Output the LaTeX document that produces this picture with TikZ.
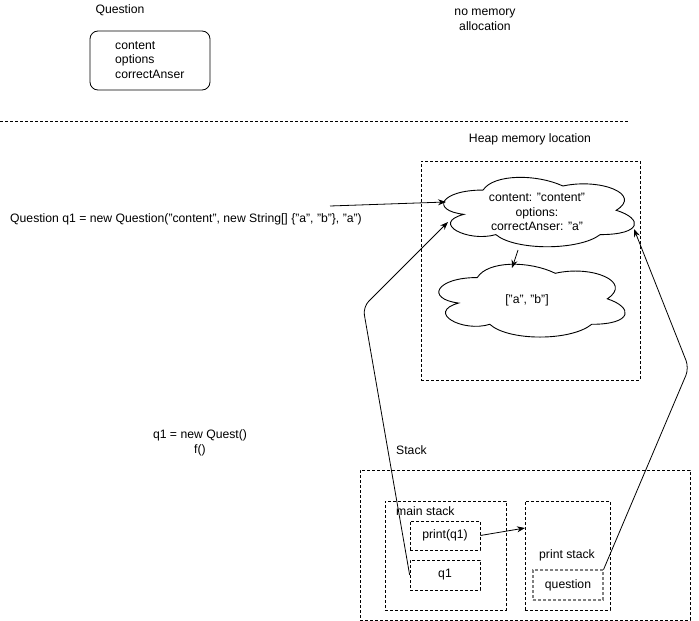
\documentclass[tikz,border=0pt]{standalone}
\usepackage{fontspec}
\setmainfont{Liberation Sans}
\usetikzlibrary{arrows.meta}
\newcommand{\drawcloudshape}[3]{%
  \begin{scope}[shift={(#1.north west)}, x={(#2pt,0pt)}, y={(0pt,-#3pt)}]
    \draw[line width=0.9pt] (0.25,0.25) .. controls (0.05,0.25) and (0,0.5) .. (0.16,0.55)
      .. controls (0,0.66) and (0.18,0.9) .. (0.31,0.8)
      .. controls (0.4,1) and (0.7,1) .. (0.8,0.8)
      .. controls (1,0.8) and (1,0.6) .. (0.875,0.5)
      .. controls (1,0.3) and (0.8,0.1) .. (0.625,0.2)
      .. controls (0.5,0.05) and (0.3,0.05) .. (0.25,0.25) -- cycle;
  \end{scope}}
\begin{document}
\begin{tikzpicture}[x=1pt,y=-1pt,
  every node/.style={font=\fontsize{12.2}{14.5}\selectfont, inner sep=0pt},
  dbox/.style={draw, dashed, line width=0.7pt, dash pattern=on 3pt off 2pt},
  gbox/.style={draw=gray, dashed, line width=1.2pt, dash pattern=on 3pt off 2pt},
  cloudbox/.style={draw=none, inner sep=0pt},
  arr/.style={-{Stealth[length=8pt,width=6pt]}, line width=0.8pt},
  lab/.style={align=center}
]
\useasboundingbox (0,0) rectangle (699,621);
% top section
\node[lab] (qlabel) at (120,10) {Question};
\node[draw, rounded corners=8pt, line width=0.8pt, minimum width=120pt, minimum height=59pt] (qbox) at (150,60.5) {};
\node[align=left, anchor=west] (qfields) at (115,60) {content\\options\\correctAnser};
\node[lab] (nomem) at (485,20) {no memory\\allocation};
\draw[dbox] (0,121) coordinate (sepA) -- (628,121) coordinate (sepB);

% heap
\node[lab] (heaplabel) at (530,139) {Heap memory location};
\node[dbox, minimum width=219pt, minimum height=219pt] (heap) at (530.5,270.5) {};
\node[cloudbox, minimum width=213pt, minimum height=81pt] (c1) at (536.5,210.5) {};
\drawcloudshape{c1}{213}{81}
\node[lab] (c1t) at (537,212) {content: "content"\\options:\\correctAnser: "a"};
\node[cloudbox, minimum width=208pt, minimum height=85pt] (c2) at (529.5,299) {};
\drawcloudshape{c2}{208}{85}
\node[lab] (c2t) at (527,300) {["a", "b"]};
\coordinate (c1b) at (518,250);
\coordinate (c2t0) at (512,268);
\draw[arr] (c1b) -- (c2t0);

% code line
\node[anchor=west] (code) at (10,219) {Question q1 = new Question("content", new String[] \{"a", "b"\}, "a")};
\coordinate (codeEnd) at (330,206);
\coordinate (c1in) at (446,202);
\draw[arr] (codeEnd) -- (c1in);

\node[lab] (assign) at (200,443) {q1 = new Quest()\\f()};

% stack
\node[anchor=west] (stacklabel) at (396,450) {Stack};
\node[dbox, minimum width=330pt, minimum height=150pt] (stack) at (525,545) {};
\node[dbox, minimum width=121pt, minimum height=109pt] (mainst) at (445.5,555.5) {};
\node[anchor=west] (mainlabel) at (396,511) {main stack};
\node[dbox, minimum width=70pt, minimum height=29pt] (printq) at (445,535.5) {print(q1)};
\node[dbox, minimum width=70pt, minimum height=30pt] (q1) at (445,575) {q1};
\node[dbox, minimum width=85pt, minimum height=109pt] (printst) at (567.5,555.5) {};
\node[lab] (printlabel) at (567,555) {print stack};
\node[gbox, minimum width=70pt, minimum height=30pt] (question) at (568,585) {question};

\coordinate (pst) at (525,528);
\draw[arr] (printq.east) -- (pst);

\coordinate (bend1) at (363,307);
\coordinate (c1l) at (448,222);
\draw[arr, rounded corners=8pt] (q1.west) -- (bend1) -- (c1l);

\coordinate (bend2) at (689,368);
\coordinate (c1r) at (634,229);
\draw[arr, rounded corners=8pt] (question.north east) -- (bend2) -- (c1r);
\end{tikzpicture}
\end{document}
